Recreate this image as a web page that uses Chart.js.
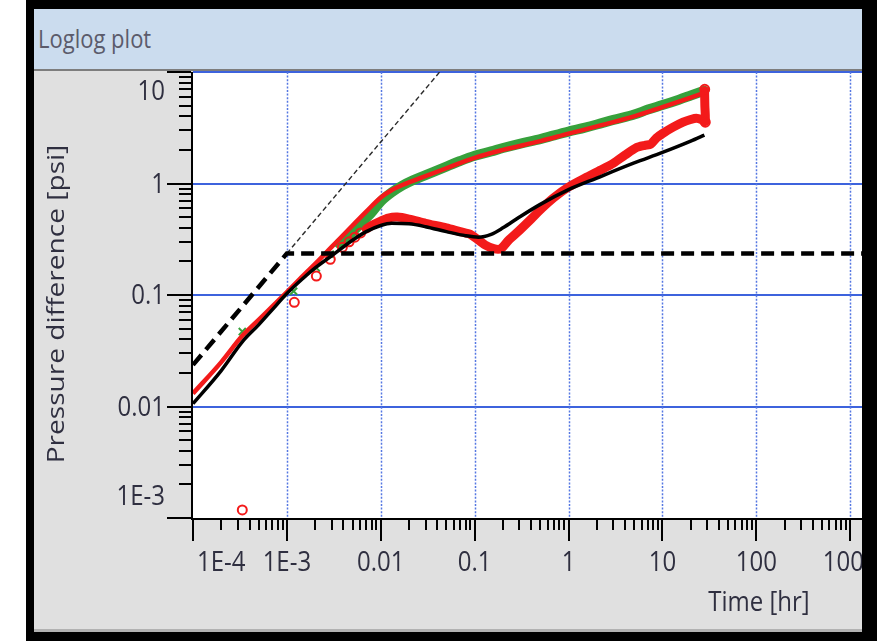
<!DOCTYPE html>
<html>
<head>
<meta charset="utf-8">
<script src="https://cdn.jsdelivr.net/npm/chart.js@4.4.1/dist/chart.umd.min.js"></script>
<style>
  html, body { margin: 0; padding: 0; background: #fff; }
  body { width: 877px; height: 641px; position: relative; overflow: hidden; font-family: "Open Sans", sans-serif; }
  #frame { position: absolute; left: 26px; top: 0; width: 851px; height: 641px; background: #000; }
  #titlebar { position: absolute; left: 34px; top: 9px; width: 828px; height: 60px; background: #cbdcee; }
  #titlebar span { position: absolute; left: 4px; top: 17px; font-size: 22px; line-height: 22px; color: #5b5b6b;
                   transform: scaleY(1.17); transform-origin: left center; white-space: nowrap; }
  #sep { position: absolute; left: 34px; top: 69px; width: 828px; height: 2px; background: #7d7d7d; }
  #panel { position: absolute; left: 34px; top: 71px; width: 828px; height: 558px; background: #e0e0e0;
           overflow: hidden; border-bottom: 3px solid #b2b2b2; }
  #panel canvas { position: absolute; left: -34px; top: -71px; }
</style>
</head>
<body>
<div id="frame"></div>
<div id="titlebar"><span>Loglog plot</span></div>
<div id="sep"></div>
<div id="panel"><canvas id="plot" width="877" height="641"></canvas></div>

<script>
// Axis ticks (decades) and their labels
const xTickValues = [1e-4, 1e-3, 0.01, 0.1, 1, 10, 100, 1000];
const xTickLabels = ['1E-4', '1E-3', '0.01', '0.1', '1', '10', '100', '1000'];
const yTickValues = [1e-3, 0.01, 0.1, 1, 10];
const yTickLabels = ['1E-3', '0.01', '0.1', '1', '10'];
const xAxisTitle = 'Time [hr]';
const yAxisTitle = 'Pressure difference [psi]';

// Measured pressure change, early sparse samples [hr] / [psi]
const pressureEarlyTime = [3.35e-4, 1.18e-3, 2.06e-3, 2.9e-3];
const pressureEarly     = [0.047, 0.108, 0.175, 0.232];

// Measured pressure change, dense record
const pressureTime = [3.6e-3, 4.5e-3, 6e-3, 8e-3, 0.01, 0.013, 0.017, 0.022, 0.03, 0.05, 0.07, 0.1,
                      0.15, 0.2, 0.3, 0.5, 0.7, 1, 1.5, 2, 3, 5, 7, 10, 15, 20, 28];
const pressure     = [0.29, 0.34, 0.43, 0.55, 0.69, 0.83, 0.96, 1.07, 1.19, 1.42, 1.59, 1.77,
                      1.94, 2.08, 2.27, 2.5, 2.7, 2.92, 3.17, 3.38, 3.72, 4.15, 4.6, 5.05, 5.65, 6.15, 6.8];

// Measured derivative, sparse samples
const derivativeMarkerTime = [3.35e-4, 1.2e-3, 2.06e-3, 2.9e-3, 3.9e-3, 4.6e-3, 5.3e-3, 6.1e-3, 28.6, 28.2];
const derivativeMarker     = [0.00118, 0.086, 0.148, 0.209, 0.268, 0.3, 0.33, 0.36, 3.55, 7.0];

// Measured derivative, dense record
const derivativeTime = [7e-3, 8e-3, 0.01, 0.012, 0.015, 0.02, 0.03, 0.05, 0.07, 0.09, 0.11, 0.13, 0.16,
                        0.19, 0.23, 0.3, 0.4, 0.52, 0.7, 1, 1.5, 2.2, 3, 4, 5.3, 6.5, 7.5, 8.6, 10,
                        13, 16.6, 20, 23, 26, 28.5, 28.3, 28.1];
const derivative     = [0.39, 0.42, 0.46, 0.49, 0.5, 0.48, 0.44, 0.4, 0.37, 0.35, 0.31, 0.28, 0.26,
                        0.26, 0.31, 0.38, 0.48, 0.6, 0.75, 0.93, 1.12, 1.32, 1.52, 1.8, 2.1, 2.2, 2.25, 2.55, 2.8,
                        3.2, 3.55, 3.75, 3.85, 3.75, 3.6, 5.0, 6.8];

// Model: pressure change
const modelTime     = [1e-4, 2e-4, 3.35e-4, 5e-4, 7e-4, 1e-3, 1.5e-3, 2e-3, 3e-3, 5e-3, 7e-3, 0.01,
                       0.013, 0.017, 0.025, 0.05, 0.1, 0.2, 0.5, 1, 2, 5, 10, 20, 28];
const pressureModel = [0.0131, 0.025, 0.043, 0.06, 0.079, 0.106, 0.15, 0.19, 0.27, 0.42, 0.56, 0.75,
                       0.87, 0.97, 1.1, 1.37, 1.7, 2.0, 2.4, 2.8, 3.25, 4.0, 4.85, 5.9, 6.5];

// Model: derivative
const derivativeModelTime = [1e-4, 2e-4, 3.35e-4, 5e-4, 7e-4, 1e-3, 1.5e-3, 2e-3, 3e-3, 5e-3, 7e-3, 0.01,
                             0.013, 0.02, 0.03, 0.05, 0.08, 0.11, 0.15, 0.2, 0.3, 0.5, 1, 2, 5, 10, 20, 28];
const derivativeModel     = [0.0106, 0.021, 0.038, 0.054, 0.074, 0.103, 0.142, 0.175, 0.225, 0.31, 0.37, 0.42,
                             0.44, 0.435, 0.41, 0.37, 0.34, 0.33, 0.35, 0.4, 0.5, 0.65, 0.88, 1.12, 1.53, 1.9, 2.4, 2.72];

// Straight-line guides: wellbore storage then radial flow, and the unit slope
const radialTime  = [1e-4, 1e-3, 1e4];
const radialLevel = [0.0236, 0.236, 0.236];
const unitSlopeTime  = [1e-3, 0.0424];
const unitSlopeLevel = [0.236, 10];

const X_MIN = 1e-4, X_MAX = 1625, Y_MIN = 1e-3, Y_MAX = 10;
const GREEN = '#37a13c', RED = '#f31a1a', INK = '#2f2f40';
const FONT = '24px "Open Sans"';
const STRETCH = 1.17;

const toPoints = (xs, ys) => xs.map((x, i) => ({ x, y: ys[i] }));

function stretchedText(ctx, text, x, y, align, sx, sy, rot) {
  ctx.save();
  ctx.translate(x, y);
  if (rot) ctx.rotate(rot);
  ctx.scale(sx, sy);
  ctx.textAlign = align;
  ctx.textBaseline = 'middle';
  ctx.fillText(text, 0, 0);
  ctx.restore();
}

const loglogFrame = {
  id: 'loglogFrame',
  beforeDraw(chart) {
    const { ctx, chartArea: a } = chart;
    ctx.save();
    ctx.fillStyle = '#ffffff';
    ctx.fillRect(a.left, a.top, a.right - a.left, a.bottom - a.top);
    ctx.restore();
  },
  beforeDatasetsDraw(chart) {
    const { ctx, chartArea: a, scales: { x, y } } = chart;
    ctx.save();
    // solid horizontal decade lines
    ctx.strokeStyle = '#3d63dd';
    ctx.lineWidth = 2;
    yTickValues.forEach(v => {
      if (v <= Y_MIN) return;
      const py = Math.round(y.getPixelForValue(v));
      ctx.beginPath(); ctx.moveTo(a.left, py); ctx.lineTo(a.right, py); ctx.stroke();
    });
    // dotted vertical decade lines
    ctx.strokeStyle = '#5577e2';
    ctx.lineWidth = 1.5;
    ctx.setLineDash([2, 1.6]);
    xTickValues.forEach(v => {
      if (v <= X_MIN) return;
      const px = Math.round(x.getPixelForValue(v)) + 0.5;
      ctx.beginPath(); ctx.moveTo(px, a.top); ctx.lineTo(px, a.bottom); ctx.stroke();
    });
    ctx.restore();
  },
  afterDraw(chart) {
    const { ctx, chartArea: a, scales: { x, y } } = chart;
    ctx.save();
    ctx.fillStyle = '#000';
    // axis lines
    ctx.fillRect(a.left - 2, a.top, 2, a.bottom - a.top);
    ctx.fillRect(a.left - 2, a.bottom, a.right - a.left + 2, 2);

    // y ticks: decades long, minors short
    for (let d = Math.floor(Math.log10(Y_MIN)); d < Math.log10(Y_MAX); d++) {
      for (let k = 1; k <= 9; k++) {
        const v = k * Math.pow(10, d);
        if (v < Y_MIN * 0.999 || v > Y_MAX * 1.001) continue;
        const py = Math.round(y.getPixelForValue(v));
        const len = k === 1 ? 24 : 12;
        ctx.fillRect(a.left - 2 - len, py - 1, len, 2);
      }
    }
    {
      const py = Math.round(y.getPixelForValue(Y_MAX));
      ctx.fillRect(a.left - 26, py - 1, 24, 2);
    }
    // x ticks
    for (let d = Math.floor(Math.log10(X_MIN)); d < Math.log10(X_MAX); d++) {
      for (let k = 1; k <= 9; k++) {
        const v = k * Math.pow(10, d);
        if (v < X_MIN * 0.999 || v > X_MAX) continue;
        const px = Math.round(x.getPixelForValue(v));
        const len = k === 1 ? 23 : 12;
        ctx.fillRect(px - 1, a.bottom, 2, len);
      }
    }

    // tick labels
    ctx.fillStyle = INK;
    ctx.font = FONT;
    yTickValues.forEach((v, i) => {
      let py = y.getPixelForValue(v);
      if (v === Y_MAX) py += 20;
      else if (v === Y_MIN) py -= 21;
      else py += 1;
      stretchedText(ctx, yTickLabels[i], a.left - 28, py, 'right', 1, STRETCH, 0);
    });
    xTickValues.forEach((v, i) => {
      const px = x.getPixelForValue(v);
      if (v === X_MIN) stretchedText(ctx, xTickLabels[i], px + 4, 563, 'left', 1, STRETCH, 0);
      else stretchedText(ctx, xTickLabels[i], px, 563, 'center', 1, STRETCH, 0);
    });

    // axis titles
    stretchedText(ctx, xAxisTitle, 759, 603, 'center', 1, STRETCH, 0);
    stretchedText(ctx, yAxisTitle, 57, 304, 'center', STRETCH, 1, -Math.PI / 2);
    ctx.restore();
  }
};

new Chart(document.getElementById('plot'), {
  type: 'line',
  data: {
    datasets: [
      { label: 'Radial flow', data: toPoints(radialTime, radialLevel), borderColor: '#000',
        borderWidth: 4.5, borderDash: [13, 7], pointRadius: 0, tension: 0 },
      { label: 'Unit slope', data: toPoints(unitSlopeTime, unitSlopeLevel), borderColor: '#2a2a2a',
        borderWidth: 1.4, borderDash: [5, 3], pointRadius: 0, tension: 0 },
      { label: 'Derivative model', data: toPoints(derivativeModelTime, derivativeModel), borderColor: '#000',
        borderWidth: 3.5, pointRadius: 0, cubicInterpolationMode: 'monotone' },
      { label: 'Pressure model', data: toPoints(modelTime, pressureModel), borderColor: RED,
        borderWidth: 4.5, pointRadius: 0, cubicInterpolationMode: 'monotone' },
      { label: 'Derivative', data: toPoints(derivativeMarkerTime, derivativeMarker), showLine: false,
        pointStyle: 'circle', pointRadius: 4.5, pointBorderWidth: 2, pointBorderColor: RED,
        pointBackgroundColor: 'rgba(0,0,0,0)' },
      { label: 'Derivative', data: toPoints(derivativeTime, derivative), borderColor: RED,
        borderWidth: 9, pointRadius: 0, tension: 0.25, borderJoinStyle: 'round', borderCapStyle: 'round' },
      { label: 'Pressure', data: toPoints(pressureEarlyTime, pressureEarly), showLine: false,
        pointStyle: 'crossRot', pointRadius: 5, pointBorderWidth: 2, pointBorderColor: GREEN },
      { label: 'Pressure', data: toPoints(pressureTime, pressure), borderColor: GREEN,
        borderWidth: 10, pointRadius: 0, cubicInterpolationMode: 'monotone', borderCapStyle: 'round' }
    ]
  },
  options: {
    responsive: false,
    animation: false,
    events: [],
    layout: { padding: { top: 72, left: 0, right: 0, bottom: 0 } },
    plugins: { legend: { display: false }, tooltip: { enabled: false } },
    scales: {
      x: {
        type: 'logarithmic', min: X_MIN, max: X_MAX,
        grid: { display: false }, border: { display: false }, ticks: { display: false },
        afterFit(scale) { scale.height = 123; }
      },
      y: {
        type: 'logarithmic', min: Y_MIN, max: Y_MAX,
        grid: { display: false }, border: { display: false }, ticks: { display: false },
        afterFit(scale) { scale.width = 193; }
      }
    }
  },
  plugins: [loglogFrame]
});
</script>
</body>
</html>
